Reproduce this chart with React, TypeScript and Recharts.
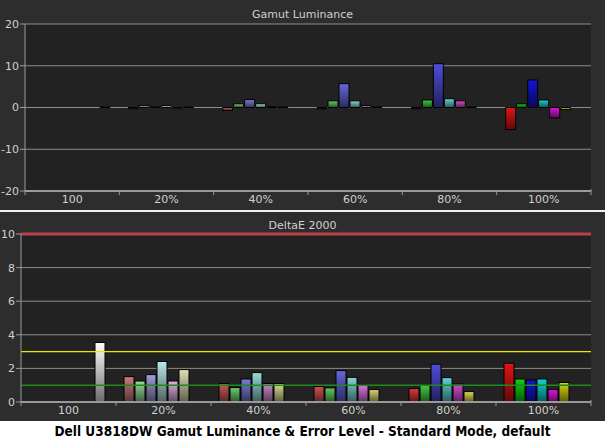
import React from 'react';
import { BarChart, Bar, XAxis, YAxis, CartesianGrid, ReferenceLine, Cell } from 'recharts';

const categories = ['100', '20%', '40%', '60%', '80%', '100%'];

// Gamut luminance error (%) per colour, per saturation level
const lumR = [null, -0.3, -0.7, -0.3, -0.3, -5.3];
const lumG = [null, 0.5, 0.9, 1.6, 1.8, 0.9];
const lumB = [null, 0.15, 1.9, 5.7, 10.5, 6.6];
const lumC = [null, 0.5, 0.9, 1.6, 2.1, 1.8];
const lumM = [null, -0.3, 0.2, 0.5, 1.6, -2.5];
const lumY = [null, 0.15, 0.15, 0.2, 0.15, -0.5];
const lumW = [0.15, null, null, null, null, null];

// DeltaE 2000 per colour, per saturation level
const deR = [null, 1.51, 1.1, 0.92, 0.8, 2.31];
const deG = [null, 1.25, 0.86, 0.84, 0.98, 1.37];
const deB = [null, 1.63, 1.37, 1.87, 2.25, 1.31];
const deC = [null, 2.41, 1.75, 1.47, 1.45, 1.37];
const deM = [null, 1.25, 1.1, 1.01, 1.07, 0.74];
const deY = [null, 1.93, 1.1, 0.74, 0.62, 1.16];
const deW = [3.54, null, null, null, null, null];

const lumTicks = [-20, -10, 0, 10, 20];
const deTicks = [0, 2, 4, 6, 8, 10];

const SERIES = ['R', 'G', 'B', 'C', 'M', 'Y', 'W'];

const palette: Record<string, string[]> = {
  R: ['#c07070', '#cc7c7c', '#cc5a5a', '#d45050', '#dc3838', '#e41414'],
  G: ['#90d090', '#98dc98', '#6ccc6c', '#60cc60', '#40cc40', '#10d410'],
  B: ['#9090d0', '#a0a0dc', '#7c7cd4', '#6666dc', '#4e4edc', '#1414d4'],
  C: ['#b0e0e0', '#bce8e8', '#98dcdc', '#84d8d8', '#64d4d4', '#14d4d4'],
  M: ['#d0a0d0', '#e0b0e0', '#cc88cc', '#dc74dc', '#d44cd4', '#dc14dc'],
  Y: ['#d0d0a0', '#e0e0b4', '#dcdc94', '#dcd474', '#dcd454', '#d8d814'],
  W: ['#ffffff', '#ffffff', '#ffffff', '#ffffff', '#ffffff', '#ffffff'],
};

function darken(hex: string, f: number) {
  const n = parseInt(hex.slice(1), 16);
  const r = Math.round(((n >> 16) & 255) * f);
  const g = Math.round(((n >> 8) & 255) * f);
  const b = Math.round((n & 255) * f);
  return `rgb(${r},${g},${b})`;
}

function build(arrs: (number | null)[][]) {
  return categories.map((name, i) => {
    const row: any = { name };
    SERIES.forEach((s, k) => {
      row[s] = arrs[k][i];
    });
    return row;
  });
}

const lumData = build([lumR, lumG, lumB, lumC, lumM, lumY, lumW]);
const deData = build([deR, deG, deB, deC, deM, deY, deW]);

const AXIS = '#9a9a9a';
const TXT = '#d0d0d0';
const FONT = '"DejaVu Sans", Tahoma, sans-serif';

function makeTick(bw: number) {
  return (props: any) => {
    const { x, y, payload, index } = props;
    const last = index === categories.length - 1;
    return (
      <g>
        <text x={x} y={y + 12} textAnchor="middle" fill={TXT} fontSize={11} fontFamily={FONT}>
          {payload.value}
        </text>
        <line x1={x - bw / 2} x2={x - bw / 2} y1={y} y2={y + 4} stroke={AXIS} strokeWidth={1} />
        {last && <line x1={x + bw / 2} x2={x + bw / 2} y1={y - 2} y2={y + 4} stroke={AXIS} strokeWidth={1} />}
      </g>
    );
  };
}

function Gradients() {
  return (
    <svg width={0} height={0} style={{ position: 'absolute' }}>
      <defs>
        {SERIES.map((s) =>
          palette[s].map((c, i) => (
            <linearGradient key={`${s}-${i}`} id={`g-${s}-${i}`} x1="0" y1="0" x2="0" y2="1">
              <stop offset="0%" stopColor={c} />
              <stop offset="100%" stopColor={darken(c, 0.42)} />
            </linearGradient>
          ))
        )}
      </defs>
    </svg>
  );
}

function bars(data: any[]) {
  return SERIES.map((s) => (
    <Bar key={s} dataKey={s} yAxisId="left" isAnimationActive={false} stroke="#000" strokeWidth={1}>
      {data.map((_, i) => (
        <Cell key={i} fill={`url(#g-${s}-${i})`} />
      ))}
    </Bar>
  ));
}

const yTick = { fill: TXT, fontSize: 11, fontFamily: FONT };

export default function App() {
  return (
    <div style={{ position: 'absolute', left: 0, top: 0, width: 605, height: 441, background: '#ffffff', overflow: 'hidden' }}>
      <Gradients />
      {/* Top panel */}
      <div style={{ position: 'absolute', left: 0, top: 0, width: 605, height: 210, background: '#2d2d2d' }}>
        <div style={{ position: 'absolute', left: 0, width: 605, top: 8, textAlign: 'center', color: TXT, fontSize: 11, fontFamily: FONT }}>
          Gamut Luminance
        </div>
        <BarChart width={605} height={210} data={lumData} margin={{ top: 24, right: 14, bottom: 0, left: 0 }} barCategoryGap={9} barGap={1}>
          <CartesianGrid vertical={false} stroke="#8c8c8c" fill="#222222" yAxisId="left" />
          <XAxis dataKey="name" height={19} interval={0} tickLine={false} tickSize={0} tickMargin={0} axisLine={{ stroke: AXIS, strokeWidth: 2 }} tick={makeTick(566 / 6)} />
          <YAxis yAxisId="left" width={25} domain={[-20, 20]} ticks={lumTicks} allowDataOverflow tickSize={5} tickMargin={1} tick={yTick} tickLine={{ stroke: AXIS }} axisLine={{ stroke: AXIS }} />
          <YAxis yAxisId="right" orientation="right" width={0} domain={[-20, 20]} tick={false} tickLine={false} axisLine={{ stroke: AXIS }} />
          {bars(lumData)}
        </BarChart>
      </div>
      <div style={{ position: 'absolute', left: 0, top: 210, width: 605, height: 2, background: '#f0f0f0' }} />
      {/* Bottom panel */}
      <div style={{ position: 'absolute', left: 0, top: 212, width: 605, height: 209, background: '#2d2d2d' }}>
        <div style={{ position: 'absolute', left: 0, width: 605, top: 7, textAlign: 'center', color: TXT, fontSize: 11, fontFamily: FONT }}>
          DeltaE 2000
        </div>
        <BarChart width={605} height={209} data={deData} margin={{ top: 22, right: 14, bottom: 0, left: 0 }} barCategoryGap={8} barGap={1}>
          <CartesianGrid vertical={false} stroke="#8c8c8c" fill="#222222" yAxisId="left" />
          <XAxis dataKey="name" height={19} interval={0} tickLine={false} tickSize={0} tickMargin={0} axisLine={{ stroke: AXIS, strokeWidth: 2 }} tick={makeTick(570 / 6)} />
          <YAxis yAxisId="left" width={21} domain={[0, 10]} ticks={deTicks} allowDataOverflow tickSize={5} tickMargin={1} tick={yTick} tickLine={{ stroke: AXIS }} axisLine={{ stroke: AXIS }} />
          <YAxis yAxisId="right" orientation="right" width={0} domain={[0, 10]} tick={false} tickLine={false} axisLine={{ stroke: AXIS }} />
          {bars(deData)}
          <ReferenceLine yAxisId="left" y={1} stroke="#1d8a1d" strokeWidth={1.5} />
          <ReferenceLine yAxisId="left" y={3} stroke="#e8e800" strokeWidth={1.3} />
          <ReferenceLine yAxisId="left" y={10} stroke="#b8404c" strokeWidth={3} />
        </BarChart>
      </div>
      {/* Caption */}
      <div
        style={{
          position: 'absolute',
          left: 0,
          top: 422,
          width: 605,
          height: 19,
          textAlign: 'center',
          whiteSpace: 'nowrap',
          fontFamily: '"DejaVu Sans Condensed", "DejaVu Sans", sans-serif',
          fontStretch: 'condensed',
          fontWeight: 'bold',
          fontSize: 13.5,
          lineHeight: '19px',
          color: '#000',
        }}
      >
        Dell U3818DW Gamut Luminance &amp; Error Level - Standard Mode, default
      </div>
    </div>
  );
}
